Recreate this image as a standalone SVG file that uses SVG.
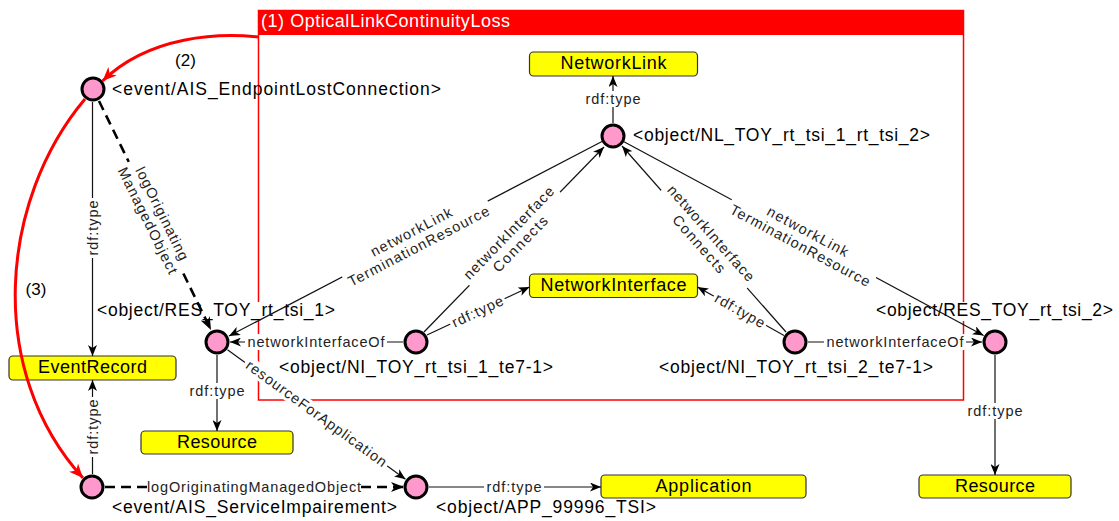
<svg xmlns="http://www.w3.org/2000/svg" width="1119" height="521" viewBox="0 0 1119 521">
<defs>
<style>
text{font-family:"Liberation Sans",Arial,Helvetica,sans-serif}
.nl{font-size:17.5px;fill:#000}
.cl{font-size:18px;fill:#000;text-anchor:middle}
.el{font-size:14.5px;fill:#222;text-anchor:middle}
.bg{fill:#fff}
.node circle{fill:#ff99cc;stroke:#000;stroke-width:3}
.cls rect{fill:#ffff00;stroke:#333;stroke-width:1.2}
.e{fill:none;stroke:#111;stroke-width:1.2;marker-end:url(#arr)}
.d{fill:none;stroke:#000;stroke-width:2.6;stroke-dasharray:10 6;marker-end:url(#arrB)}
.r{fill:none;stroke:#f00;stroke-width:3;marker-end:url(#arrR)}
</style>
<marker id="arr" viewBox="0 0 11 9" refX="11" refY="4.5" markerWidth="11" markerHeight="9" markerUnits="userSpaceOnUse" orient="auto"><path d="M0,0 L11,4.5 L0,9 L3,4.5 z" fill="#000"/></marker>
<marker id="arrB" viewBox="0 0 13 10" refX="13" refY="5" markerWidth="13" markerHeight="10" markerUnits="userSpaceOnUse" orient="auto"><path d="M0,0 L13,5 L0,10 L3.5,5 z" fill="#000"/></marker>
<marker id="arrR" viewBox="0 0 14 12" refX="14" refY="6" markerWidth="14" markerHeight="12" markerUnits="userSpaceOnUse" orient="auto"><path d="M0,0 L14,6 L0,12 L4,6 z" fill="#f00"/></marker>
</defs>
<rect width="1119" height="521" fill="#fff"/>

<g id="frame">
<rect x="258.5" y="10.5" width="705" height="389.5" fill="none" stroke="#f00" stroke-width="1.5"/>
<rect x="258.5" y="10" width="705" height="25" fill="#f00"/>
<text x="261" y="27" font-size="18" fill="#fff" textLength="249">(1) OpticalLinkContinuityLoss</text>
</g>

<g id="nodes">
<g id="n-AIS_EndpointLostConnection" class="node">
<circle cx="93" cy="89" r="11"/>
<text class="nl" x="112" y="95" textLength="329">&lt;event/AIS_EndpointLostConnection&gt;</text>
</g>
<g id="n-NL_TOY" class="node">
<circle cx="613" cy="136" r="11"/>
<text class="nl" x="633" y="141" textLength="297">&lt;object/NL_TOY_rt_tsi_1_rt_tsi_2&gt;</text>
</g>
<g id="n-RES_TOY_rt_tsi_1" class="node">
<rect class="bg" x="96" y="302" width="241" height="19"/>
<text class="nl" x="97" y="316" textLength="238">&lt;object/RES_TOY_rt_tsi_1&gt;</text>
<circle cx="217" cy="342" r="11"/>
</g>
<g id="n-NI_TOY_rt_tsi_1_te7-1" class="node">
<circle cx="416" cy="342" r="11"/>
<text class="nl" x="279" y="373" textLength="274">&lt;object/NI_TOY_rt_tsi_1_te7-1&gt;</text>
</g>
<g id="n-NI_TOY_rt_tsi_2_te7-1" class="node">
<circle cx="795" cy="342" r="11"/>
<text class="nl" x="659" y="373" textLength="274">&lt;object/NI_TOY_rt_tsi_2_te7-1&gt;</text>
</g>
<g id="n-RES_TOY_rt_tsi_2" class="node">
<rect class="bg" x="875" y="302" width="240" height="19"/>
<text class="nl" x="876" y="316" textLength="237">&lt;object/RES_TOY_rt_tsi_2&gt;</text>
<circle cx="995" cy="342" r="11"/>
</g>
<g id="n-AIS_ServiceImpairement" class="node">
<circle cx="92" cy="487" r="11"/>
<text class="nl" x="112" y="513" textLength="285">&lt;event/AIS_ServiceImpairement&gt;</text>
</g>
<g id="n-APP_99996_TSI" class="node">
<circle cx="416" cy="487" r="11"/>
<text class="nl" x="436" y="513" textLength="220">&lt;object/APP_99996_TSI&gt;</text>
</g>
</g>

<g id="classes">
<g id="c-NetworkLink" class="cls"><rect x="529.5" y="52" width="168" height="24" rx="4"/><text class="cl" x="613.5" y="69" textLength="106">NetworkLink</text></g>
<g id="c-NetworkInterface" class="cls"><rect x="529.5" y="274" width="168" height="23.5" rx="4"/><text class="cl" x="613.5" y="291" textLength="146">NetworkInterface</text></g>
<g id="c-EventRecord" class="cls"><rect x="9" y="356" width="167" height="24" rx="4"/><text class="cl" x="92.5" y="373" textLength="109">EventRecord</text></g>
<g id="c-Resource-1" class="cls"><rect x="141" y="431" width="152" height="23" rx="4"/><text class="cl" x="217" y="448" textLength="80">Resource</text></g>
<g id="c-Application" class="cls"><rect x="601" y="475" width="205" height="23" rx="4"/><text class="cl" x="703.5" y="492" textLength="96">Application</text></g>
<g id="c-Resource-2" class="cls"><rect x="919" y="475" width="152" height="23" rx="4"/><text class="cl" x="995" y="492" textLength="80">Resource</text></g>
</g>

<g id="connectors">
<path class="e" d="M92.5,102 V356"/>
<path class="e" d="M92.5,474 V380"/>
<path class="d" d="M99,101 L211,330"/>
<path class="d" d="M105,487 H404"/>
<path class="e" d="M217,355 V431"/>
<path class="e" d="M227.5,349.7 L405.5,479.3"/>
<path class="e" d="M429,487 H601"/>
<path class="e" d="M403,342 H230"/>
<path class="e" d="M427,335 L529.5,287"/>
<path class="e" d="M424,332 L604,147"/>
<path class="e" d="M602,141.5 L229,336"/>
<path class="e" d="M786,332 L622,146"/>
<path class="e" d="M624,141.7 L983.6,335.5"/>
<path class="e" d="M784,335.5 L697.5,287"/>
<path class="e" d="M808,342 H982"/>
<path class="e" d="M995,355 V475"/>
<path class="e" d="M613,123 V76"/>
<path class="r" d="M258,37 C220,33 150,35 102.5,81"/>
<path class="r" d="M85,99 C0,200 -15,370 83,478"/>

<text x="185.5" y="66" font-size="17" text-anchor="middle">(2)</text>
<text x="36" y="295" font-size="17" text-anchor="middle">(3)</text>

<g transform="translate(92.5,228) rotate(-90)"><rect class="bg" x="-30" y="-8" width="60" height="16"/><text class="el" x="0" y="5" textLength="55">rdf:type</text></g>
<g transform="translate(92.5,427) rotate(-90)"><rect class="bg" x="-30" y="-8" width="60" height="16"/><text class="el" x="0" y="5" textLength="55">rdf:type</text></g>
<g transform="translate(155,217) rotate(63.7)"><rect class="bg" x="-61" y="-17" width="122" height="34"/><text class="el" x="0" y="-3" textLength="102">logOriginating</text><text class="el" x="0" y="13" textLength="117">ManagedObject</text></g>
<g transform="translate(254,487)"><rect class="bg" x="-106" y="-8" width="212" height="16"/><text class="el" x="0" y="5" textLength="214">logOriginatingManagedObject</text></g>
<g transform="translate(217,391)"><rect class="bg" x="-30" y="-8" width="60" height="16"/><text class="el" x="0" y="5" textLength="55">rdf:type</text></g>
<g transform="translate(316.5,413.5) rotate(36)"><rect class="bg" x="-88" y="-8" width="176" height="16"/><text class="el" x="0" y="5" textLength="170">resourceForApplication</text></g>
<g transform="translate(514,487)"><rect class="bg" x="-30" y="-8" width="60" height="16"/><text class="el" x="0" y="5" textLength="55">rdf:type</text></g>
<g transform="translate(316,342)"><rect class="bg" x="-71" y="-8" width="142" height="16"/><text class="el" x="0" y="5" textLength="137">networkInterfaceOf</text></g>
<g transform="translate(477.5,311.5) rotate(-25.2)"><rect class="bg" x="-30" y="-8" width="60" height="16"/><text class="el" x="0" y="5" textLength="55">rdf:type</text></g>
<g transform="translate(514.5,238.5) rotate(-45.8)"><rect class="bg" x="-65" y="-17" width="130" height="34"/><text class="el" x="0" y="-3" textLength="123">networkInterface</text><text class="el" x="0" y="13" textLength="72">Connects</text></g>
<g transform="translate(415,239) rotate(-27.5)"><rect class="bg" x="-82" y="-17" width="164" height="34"/><text class="el" x="0" y="-3" textLength="90">networkLink</text><text class="el" x="0" y="13" textLength="157">TerminationResource</text></g>
<g transform="translate(705,238.5) rotate(48.5)"><rect class="bg" x="-65" y="-17" width="130" height="34"/><text class="el" x="0" y="-3" textLength="123">networkInterface</text><text class="el" x="0" y="13" textLength="72">Connects</text></g>
<g transform="translate(804,238.5) rotate(28.3)"><rect class="bg" x="-82" y="-17" width="164" height="34"/><text class="el" x="0" y="-3" textLength="90">networkLink</text><text class="el" x="0" y="13" textLength="157">TerminationResource</text></g>
<g transform="translate(740,310.5) rotate(29.5)"><rect class="bg" x="-30" y="-8" width="60" height="16"/><text class="el" x="0" y="5" textLength="55">rdf:type</text></g>
<g transform="translate(895,342)"><rect class="bg" x="-71" y="-8" width="142" height="16"/><text class="el" x="0" y="5" textLength="137">networkInterfaceOf</text></g>
<g transform="translate(995,411)"><rect class="bg" x="-30" y="-8" width="60" height="16"/><text class="el" x="0" y="5" textLength="55">rdf:type</text></g>
<g transform="translate(613,99)"><rect class="bg" x="-30" y="-8" width="60" height="16"/><text class="el" x="0" y="5" textLength="55">rdf:type</text></g>
</g>
</svg>
